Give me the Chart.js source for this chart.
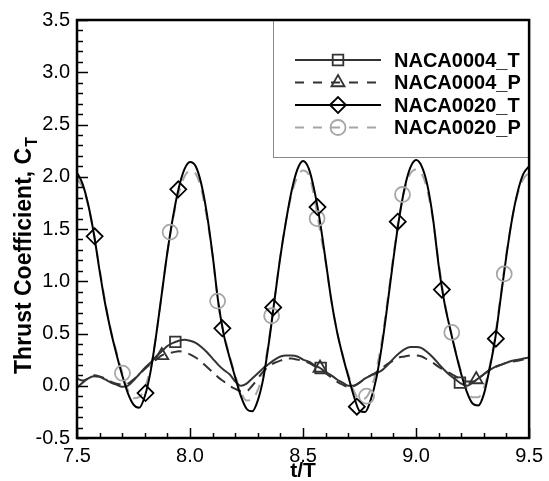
<!DOCTYPE html>
<html>
<head>
<meta charset="utf-8">
<script src="https://cdn.jsdelivr.net/npm/chart.js@4.4.1/dist/chart.umd.min.js"></script>
<style>
  html, body { margin: 0; padding: 0; background: #fff; }
  #wrap { width: 549px; height: 481px; }
</style>
</head>
<body>
<div id="wrap"><canvas id="c" width="549" height="481"></canvas></div>
<script>
// ---------------- DATA ----------------
const tValues = [
  7.500, 7.525, 7.550, 7.575, 7.600, 7.625, 7.650, 7.675, 7.700, 7.725,
  7.750, 7.775, 7.800, 7.825, 7.850, 7.875, 7.900, 7.925, 7.950, 7.975,
  8.000, 8.025, 8.050, 8.075, 8.100, 8.125, 8.150, 8.175, 8.200, 8.225,
  8.250, 8.275, 8.300, 8.325, 8.350, 8.375, 8.400, 8.425, 8.450, 8.475,
  8.500, 8.525, 8.550, 8.575, 8.600, 8.625, 8.650, 8.675, 8.700, 8.725,
  8.750, 8.775, 8.800, 8.825, 8.850, 8.875, 8.900, 8.925, 8.950, 8.975,
  9.000, 9.025, 9.050, 9.075, 9.100, 9.125, 9.150, 9.175, 9.200, 9.225,
  9.250, 9.275, 9.300, 9.325, 9.350, 9.375, 9.400, 9.425, 9.450, 9.475,
  9.500
];

const naca0004T = [
  -0.02, 0.03, 0.07, 0.09, 0.085, 0.06, 0.03, 0.01, -0.01, 0.00,
  0.05, 0.11, 0.17, 0.22, 0.28, 0.33, 0.38, 0.41, 0.43, 0.44,
  0.43, 0.41, 0.37, 0.32, 0.26, 0.20, 0.15, 0.11, 0.04, 0.00,
  0.02, 0.07, 0.12, 0.17, 0.21, 0.25, 0.28, 0.29, 0.29, 0.28,
  0.25, 0.23, 0.20, 0.17, 0.13, 0.10, 0.06, 0.03, 0.00, 0.00,
  0.03, 0.07, 0.10, 0.12, 0.15, 0.20, 0.26, 0.31, 0.35, 0.37,
  0.37, 0.36, 0.32, 0.27, 0.21, 0.15, 0.10, 0.06, 0.02, 0.00,
  0.03, 0.07, 0.11, 0.15, 0.18, 0.20, 0.22, 0.24, 0.25, 0.26,
  0.27
];

const naca0004P = [
  0.07, 0.05, 0.07, 0.10, 0.09, 0.07, 0.04, 0.02, 0.01, 0.02,
  0.06, 0.11, 0.16, 0.21, 0.25, 0.29, 0.31, 0.32, 0.33, 0.32,
  0.30, 0.27, 0.23, 0.18, 0.13, 0.08, 0.04, 0.00, -0.03, -0.05,
  -0.05, 0.00, 0.07, 0.14, 0.19, 0.22, 0.24, 0.26, 0.26, 0.25,
  0.24, 0.22, 0.19, 0.16, 0.12, 0.08, 0.04, 0.01, -0.01, 0.00,
  0.03, 0.07, 0.10, 0.13, 0.17, 0.21, 0.24, 0.27, 0.28, 0.29,
  0.29, 0.28, 0.25, 0.22, 0.18, 0.15, 0.12, 0.09, 0.06, 0.04,
  0.04, 0.07, 0.11, 0.15, 0.18, 0.20, 0.22, 0.23, 0.24, 0.25,
  0.26
];

const naca0020T = [
  2.04, 1.93, 1.73, 1.45, 1.10, 0.78, 0.52, 0.30, 0.10, -0.07,
  -0.18, -0.21, -0.10, 0.13, 0.48, 0.88, 1.28, 1.62, 1.89, 2.07,
  2.14, 2.10, 1.93, 1.64, 1.25, 0.80, 0.48, 0.27, 0.08, -0.10,
  -0.22, -0.245, -0.14, 0.08, 0.43, 0.84, 1.24, 1.58, 1.87, 2.07,
  2.15, 2.08, 1.87, 1.57, 1.20, 0.82, 0.52, 0.29, 0.09, -0.10,
  -0.24, -0.25, -0.13, 0.08, 0.40, 0.80, 1.22, 1.60, 1.90, 2.09,
  2.16, 2.10, 1.92, 1.60, 1.15, 0.80, 0.55, 0.32, 0.11, -0.06,
  -0.17, -0.19, -0.08, 0.16, 0.45, 0.85, 1.25, 1.60, 1.86, 2.03,
  2.10
];

const naca0020P = [
  1.98, 1.90, 1.72, 1.45, 1.12, 0.80, 0.53, 0.32, 0.13, -0.04,
  -0.12, -0.11, -0.02, 0.17, 0.48, 0.88, 1.28, 1.60, 1.84, 2.00,
  2.06, 2.03, 1.88, 1.60, 1.24, 0.78, 0.50, 0.29, 0.10, -0.06,
  -0.14, -0.13, -0.04, 0.14, 0.45, 0.85, 1.25, 1.58, 1.84, 2.00,
  2.06, 2.02, 1.80, 1.48, 1.18, 0.82, 0.52, 0.30, 0.11, -0.05,
  -0.13, -0.12, -0.03, 0.16, 0.45, 0.84, 1.25, 1.62, 1.88, 2.03,
  2.07, 2.03, 1.87, 1.58, 1.18, 0.82, 0.56, 0.33, 0.13, -0.03,
  -0.11, -0.11, -0.02, 0.18, 0.48, 0.88, 1.27, 1.60, 1.84, 1.98,
  2.04
];

// marker positions (symbols placed along the curves)
const sq0004T_t  = [7.935, 8.578, 9.194];
const sq0004T_ct = [0.42, 0.17, 0.03];
const tri0004P_t  = [7.875, 8.575, 9.266];
const tri0004P_ct = [0.29, 0.17, 0.06];
const dia0020T_t  = [7.578, 7.803, 7.948, 8.143, 8.368, 8.564, 8.738, 8.919, 9.114, 9.353];
const dia0020T_ct = [1.43, -0.07, 1.88, 0.55, 0.75, 1.71, -0.20, 1.57, 0.92, 0.45];
const cir0020P_t  = [7.701, 7.912, 8.122, 8.361, 8.562, 8.781, 8.940, 9.158, 9.390];
const cir0020P_ct = [0.12, 1.47, 0.81, 0.67, 1.60, -0.10, 1.83, 0.51, 1.07];

const seriesLabels = ['NACA0004_T', 'NACA0004_P', 'NACA0020_T', 'NACA0020_P'];
const xTicks = [7.5, 8.0, 8.5, 9.0, 9.5];
const yTicks = [-0.5, 0.0, 0.5, 1.0, 1.5, 2.0, 2.5, 3.0, 3.5];
const xTitle = 't/T';
const yTitleMain = 'Thrust Coefficient, C';
const yTitleSub = 'T';

// ---------------- STYLES ----------------
const FONT = '"Liberation Sans", Arial, sans-serif';
const styles = [
  { color: '#333333', dash: [],      marker: 'rect',     radius: 7.5 },
  { color: '#333333', dash: [11, 7], marker: 'triangle', radius: 7.5 },
  { color: '#000000', dash: [],      marker: 'rectRot',  radius: 8 },
  { color: '#a6a6a6', dash: [11, 8], marker: 'circle',   radius: 7.5 }
];

function pts(xs, ys) { return xs.map((x, i) => ({ x: x, y: ys[i] })); }

function lineDs(label, ys, st) {
  return {
    label: label, data: pts(tValues, ys), showLine: true,
    borderColor: st.color, borderWidth: 2, borderDash: st.dash,
    pointRadius: 0, fill: false, cubicInterpolationMode: 'monotone'
  };
}
function markDs(label, xs, ys, st) {
  return {
    label: label, data: pts(xs, ys), showLine: false,
    pointStyle: st.marker, pointRadius: st.radius, pointBorderWidth: 1.8,
    pointBorderColor: st.color, pointBackgroundColor: 'rgba(0,0,0,0)'
  };
}

// first dataset is drawn on top
const datasets = [
  markDs(seriesLabels[2] + ' sym', dia0020T_t, dia0020T_ct, styles[2]),
  markDs(seriesLabels[0] + ' sym', sq0004T_t, sq0004T_ct, styles[0]),
  markDs(seriesLabels[1] + ' sym', tri0004P_t, tri0004P_ct, styles[1]),
  markDs(seriesLabels[3] + ' sym', cir0020P_t, cir0020P_ct, styles[3]),
  lineDs(seriesLabels[2], naca0020T, styles[2]),
  lineDs(seriesLabels[0], naca0004T, styles[0]),
  lineDs(seriesLabels[1], naca0004P, styles[1]),
  lineDs(seriesLabels[3], naca0020P, styles[3])
];

// ---------------- PLUGIN: frame, ticks, titles, legend ----------------
const decor = {
  id: 'decor',
  afterDatasetsDraw(chart) {
    const ctx = chart.ctx;
    const a = chart.chartArea;
    const xs = chart.scales.x, ys = chart.scales.y;
    ctx.save();
    // minor + major ticks (inside)
    ctx.strokeStyle = '#000';
    ctx.lineWidth = 1.5;
    for (let k = 0; k <= 20; k++) {
      const v = xs.min + k * 0.1;
      const px = Math.round(xs.getPixelForValue(v)) + 0.5;
      const len = (k % 5 === 0) ? 10 : 5;
      ctx.beginPath(); ctx.moveTo(px, a.bottom); ctx.lineTo(px, a.bottom - len); ctx.stroke();
    }
    for (let k = 0; k <= 40; k++) {
      const v = ys.min + k * 0.1;
      const py = Math.round(ys.getPixelForValue(v)) + 0.5;
      const len = (k % 5 === 0) ? 11 : 6;
      ctx.beginPath(); ctx.moveTo(a.left, py); ctx.lineTo(a.left + len, py); ctx.stroke();
    }
    // legend box
    const lx0 = 273, ly0 = a.top, lx1 = a.right, ly1 = 157;
    ctx.fillStyle = '#fff';
    ctx.fillRect(lx0, ly0, lx1 - lx0, ly1 - ly0);
    ctx.strokeStyle = '#888';
    ctx.lineWidth = 1;
    ctx.strokeRect(lx0 + 0.5, ly0 + 0.5, lx1 - lx0, ly1 - ly0);
    const rows = [60, 82.5, 105, 127.5];
    [0, 1, 2, 3].forEach((si, r) => {
      const st = styles[si];
      const y = rows[r];
      ctx.save();
      ctx.strokeStyle = st.color;
      ctx.lineWidth = 2;
      ctx.setLineDash(st.dash.length ? [9, 9] : []);
      ctx.beginPath(); ctx.moveTo(295, y); ctx.lineTo(381, y); ctx.stroke();
      ctx.setLineDash([]);
      ctx.lineWidth = 1.8;
      ctx.fillStyle = 'rgba(0,0,0,0)';
      Chart.helpers.drawPoint(ctx, { pointStyle: st.marker, radius: st.radius, borderWidth: 1.8, rotation: 0 }, 338, y);
      ctx.restore();
      ctx.fillStyle = '#000';
      ctx.font = 'bold 20px ' + FONT;
      ctx.textAlign = 'left';
      ctx.textBaseline = 'middle';
      ctx.fillText(seriesLabels[si], 394, y + 1);
    });
    // frame
    ctx.strokeStyle = '#000';
    ctx.lineWidth = 2.5;
    ctx.strokeRect(a.left, a.top, a.right - a.left, a.bottom - a.top);
    // x title
    ctx.fillStyle = '#000';
    ctx.font = 'bold 21px ' + FONT;
    ctx.textAlign = 'center';
    ctx.textBaseline = 'alphabetic';
    ctx.fillText(xTitle, (a.left + a.right) / 2, 477);
    // y title with subscript
    ctx.save();
    const mainFont = 'bold 23px ' + FONT, subFont = 'bold 16px ' + FONT;
    ctx.font = mainFont; const wm = ctx.measureText(yTitleMain).width;
    ctx.font = subFont; const ws = ctx.measureText(yTitleSub).width;
    const cy = 256;
    ctx.translate(31, cy);
    ctx.rotate(-Math.PI / 2);
    ctx.textAlign = 'left';
    ctx.font = mainFont;
    ctx.fillText(yTitleMain, -(wm + ws) / 2, 0);
    ctx.font = subFont;
    ctx.fillText(yTitleSub, -(wm + ws) / 2 + wm + 1, 6);
    ctx.restore();
    ctx.restore();
  }
};

new Chart(document.getElementById('c'), {
  type: 'scatter',
  data: { datasets: datasets },
  options: {
    responsive: false,
    devicePixelRatio: 1,
    animation: false,
    layout: { padding: { top: 20, right: 12, left: 0, bottom: 0 } },
    plugins: { legend: { display: false }, tooltip: { enabled: false } },
    scales: {
      x: {
        type: 'linear', min: 7.5, max: 9.5,
        afterFit: (s) => { s.height = 43; },
        afterBuildTicks: (s) => { s.ticks = xTicks.map(v => ({ value: v })); },
        grid: { display: false, drawTicks: false },
        border: { display: false },
        ticks: {
          padding: 6, color: '#000', font: { family: FONT, size: 20 },
          maxRotation: 0, autoSkip: false,
          callback: (v) => Number(v).toFixed(1)
        }
      },
      y: {
        type: 'linear', min: -0.5, max: 3.5,
        afterFit: (s) => { s.width = 77; },
        afterBuildTicks: (s) => { s.ticks = yTicks.map(v => ({ value: v })); },
        grid: { display: false, drawTicks: false },
        border: { display: false },
        ticks: {
          padding: 7, color: '#000', font: { family: FONT, size: 20 },
          autoSkip: false,
          callback: (v) => Number(v).toFixed(1)
        }
      }
    }
  },
  plugins: [decor]
});
</script>
</body>
</html>
